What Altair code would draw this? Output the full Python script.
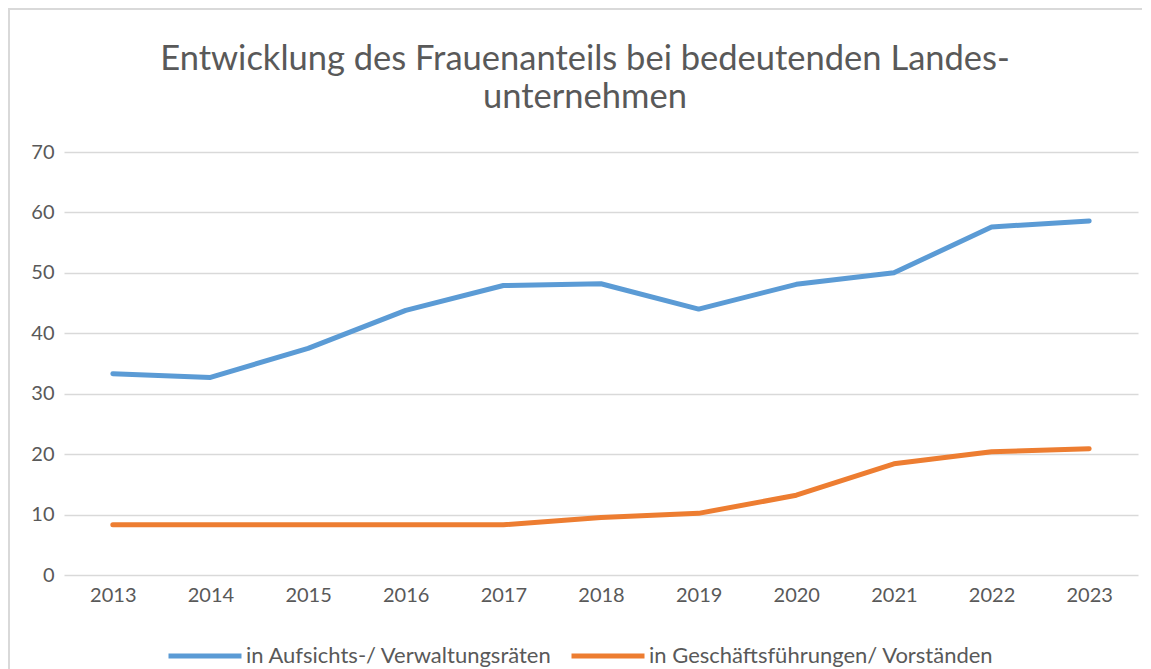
import altair as alt
import pandas as pd

years = ["2013", "2014", "2015", "2016", "2017", "2018", "2019", "2020", "2021", "2022", "2023"]
aufsicht = [33.3, 32.7, 37.5, 43.8, 47.9, 48.2, 44.0, 48.1, 50.0, 57.6, 58.6]
geschaeft = [8.3, 8.3, 8.3, 8.3, 8.3, 9.5, 10.2, 13.2, 18.4, 20.4, 20.9]
series_names = ["in Aufsichts-/ Verwaltungsräten", "in Geschäftsführungen/ Vorständen"]
series_colors = ["#5B9BD5", "#ED7D31"]
y_ticks = [0, 10, 20, 30, 40, 50, 60, 70]

rows = []
for y, a in zip(years, aufsicht):
    rows.append({"Jahr": y, "Wert": a, "Serie": series_names[0]})
for y, g in zip(years, geschaeft):
    rows.append({"Jahr": y, "Wert": g, "Serie": series_names[1]})
df = pd.DataFrame(rows)

FONT = "Lato"
GREY = "#595959"

lines = alt.Chart(df).mark_line(strokeWidth=5, strokeCap="round", strokeJoin="round").encode(
    x=alt.X("Jahr:O", scale=alt.Scale(type="point", padding=0.5),
            axis=alt.Axis(title=None, labelAngle=0, ticks=False, domain=False,
                          labelFontSize=20, labelColor=GREY, labelFont=FONT, labelPadding=10)),
    y=alt.Y("Wert:Q", scale=alt.Scale(domain=[0, 70], nice=False),
            axis=alt.Axis(title=None, values=y_ticks, ticks=False, domain=False,
                          grid=True, gridColor="#D9D9D9", gridWidth=1.5,
                          labelFontSize=20, labelColor=GREY, labelFont=FONT, labelPadding=10)),
    color=alt.Color("Serie:N", scale=alt.Scale(domain=series_names, range=series_colors),
                    legend=alt.Legend(title=None, orient="none", legendX=102, legendY=465,
                                      direction="horizontal", symbolType="stroke",
                                      symbolSize=5329, symbolStrokeWidth=5,
                                      labelFontSize=22, labelColor=GREY, labelFont=FONT,
                                      labelLimit=0, labelOffset=2, columnPadding=8)),
    order=alt.Order("Jahr:O"),
)

border = alt.Chart(pd.DataFrame({"k": [0]})).mark_rect(fill=None, stroke="#D9D9D9", strokeWidth=2).encode(
    x=alt.value(-55), x2=alt.value(1200), y=alt.value(-143), y2=alt.value(700)
)

chart = alt.layer(border, lines).properties(
    width=1074, height=423,
    autosize=alt.AutoSizeParams(type="none"),
    padding={"left": 56, "top": 144, "right": 4, "bottom": 94},
    title=alt.TitleParams(
        text=["Entwicklung des Frauenanteils bei bedeutenden Landes-", "unternehmen"],
        anchor="middle", frame="group", fontSize=34.5, font=FONT, fontWeight="normal",
        color=GREY, lineHeight=38, offset=0, dy=107, dx=-16,
    ),
).configure_view(stroke=None)

chart.save("out.html", embed_options={"renderer": "svg", "actions": False})
